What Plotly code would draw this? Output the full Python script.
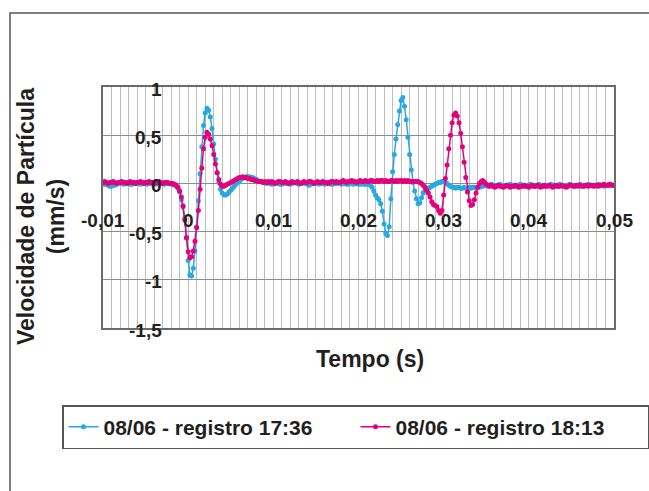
import plotly.graph_objects as go

# ---------------- data ----------------
t_start = -0.01
t_step = 0.0002
n_samples = 301
times = [round(t_start + t_step * i, 4) for i in range(n_samples)]

series_names = ["08/06 - registro 17:36", "08/06 - registro 18:13"]

blue_vals = [
    0.00, -0.01, -0.01, -0.02, -0.03, -0.03, -0.02, -0.02, -0.01, 0.00,
    0.01, 0.00, -0.01, 0.00, 0.01, 0.00, -0.01, -0.01, 0.00, 0.01,
    0.00, 0.00, -0.01, 0.00, 0.01, 0.00, -0.01, 0.00, 0.00, 0.01,
    0.00, -0.01, 0.00, 0.01, 0.00, 0.00, -0.01, 0.00, 0.00, 0.00,
    -0.01, -0.01, -0.02,
    -0.03, -0.05, -0.09, -0.17, -0.23, -0.36, -0.57, -0.80, -0.95, -0.96,
    -0.88, -0.70, -0.45, -0.18, 0.10, 0.38, 0.60, 0.73, 0.78, 0.76,
    0.69, 0.57, 0.41, 0.25, 0.11, 0.01, -0.06, -0.10, -0.12, -0.12,
    -0.11, -0.09, -0.07, -0.05, -0.03, -0.01, 0.01, 0.02, 0.04, 0.05,
    0.06, 0.07, 0.07, 0.07, 0.06, 0.06, 0.05, 0.04, 0.03, 0.02,
    0.02, 0.01, 0.01,
    0.00, 0.01, 0.00, -0.01, 0.00, 0.00, 0.01, 0.00, -0.01, -0.01,
    0.00, 0.01, 0.00, 0.00, -0.01, 0.00, 0.01, 0.01, 0.00, -0.01,
    0.00, 0.00, 0.01, 0.00, -0.01, -0.02, -0.01, 0.00, 0.00, 0.01,
    0.00, -0.01, 0.00, 0.00, -0.01, 0.00, 0.01, 0.00, -0.01, -0.01,
    0.00, 0.00, 0.01, 0.00, -0.01, 0.00, 0.00, -0.01, -0.01, 0.00,
    0.00, -0.01, 0.00, 0.00, -0.01, -0.01, 0.00, -0.01, -0.01, -0.01,
    -0.01, -0.02,
    -0.04, -0.08, -0.12, -0.15, -0.17, -0.21, -0.29, -0.42, -0.52, -0.54,
    -0.45, -0.16, 0.12, 0.30, 0.46, 0.61, 0.75, 0.86, 0.89, 0.80,
    0.66, 0.48, 0.30, 0.14, 0.01, -0.08, -0.16, -0.21, -0.20, -0.15,
    -0.10, -0.07, -0.06, -0.05, -0.04, -0.03, -0.02, -0.01, 0.00, 0.01,
    0.01, 0.02, 0.02, 0.01, 0.00, -0.02, -0.03,
    -0.04, -0.04, -0.05, -0.04, -0.04, -0.05, -0.05, -0.04, -0.05, -0.05,
    -0.04, -0.05, -0.04, -0.04, -0.05, -0.04, -0.04, -0.03,
    -0.03, -0.02, -0.02, -0.03, -0.02, -0.01, -0.02, -0.03, -0.02, -0.02,
    -0.01, -0.02, -0.03, -0.03, -0.02, -0.02, -0.01, -0.02, -0.02, -0.03,
    -0.02, -0.02, -0.01, -0.02, -0.03, -0.02, -0.02, -0.02, -0.01, -0.02,
    -0.03, -0.02, -0.02, -0.01, -0.02, -0.02, -0.03, -0.02, -0.02, -0.02,
    -0.01, -0.02, -0.02, -0.03, -0.02, -0.01, -0.02, -0.02, -0.03, -0.02,
    -0.02, -0.01, -0.02, -0.02, -0.03, -0.02, -0.02, -0.01, -0.02, -0.02,
    -0.03, -0.02, -0.01, -0.02, -0.02, -0.02, -0.03, -0.02, -0.01, -0.02,
    -0.02, -0.03, -0.02, -0.02, -0.01, -0.02, -0.02, -0.02,
]

pink_vals = [
    0.01, 0.02, 0.01, 0.00, 0.01, 0.01, 0.02, 0.01, 0.00, 0.01,
    0.01, 0.02, 0.01, 0.01, 0.00, 0.01, 0.02, 0.01, 0.01, 0.00,
    0.01, 0.01, 0.02, 0.01, 0.00, 0.01, 0.01, 0.02, 0.01, 0.01,
    0.00, 0.01, 0.01, 0.02, 0.01, 0.00, 0.01, 0.01, 0.01, 0.00,
    0.00, 0.00,
    -0.01, -0.02, -0.04, -0.08, -0.14, -0.24, -0.38, -0.56, -0.71, -0.77,
    -0.76, -0.70, -0.60, -0.46, -0.28, -0.06, 0.16, 0.36, 0.48, 0.53,
    0.51, 0.46, 0.39, 0.30, 0.20, 0.11, 0.04, -0.01, -0.03, -0.03,
    -0.02, -0.01, 0.00, 0.01, 0.02, 0.03, 0.04, 0.05, 0.06, 0.06,
    0.07, 0.06, 0.06, 0.05, 0.05, 0.04, 0.04, 0.03, 0.03, 0.02,
    0.02, 0.02, 0.01, 0.02,
    0.01, 0.02, 0.01, 0.02, 0.01, 0.00, 0.01, 0.02, 0.02, 0.01,
    0.01, 0.02, 0.01, 0.00, 0.01, 0.02, 0.01, 0.01, 0.02, 0.01,
    0.00, 0.01, 0.02, 0.01, 0.01, 0.02, 0.02, 0.01, 0.00, 0.01,
    0.02, 0.01, 0.01, 0.02, 0.01, 0.01, 0.00, 0.01, 0.02, 0.02,
    0.01, 0.02, 0.01, 0.01, 0.02, 0.03, 0.02, 0.01, 0.02, 0.02,
    0.03, 0.02, 0.02, 0.01, 0.02, 0.03, 0.02, 0.02, 0.03, 0.02,
    0.02, 0.03, 0.03, 0.02, 0.02, 0.03, 0.02, 0.03, 0.03, 0.02,
    0.03, 0.02, 0.02, 0.03, 0.03, 0.02, 0.03, 0.02, 0.03, 0.03,
    0.02, 0.03, 0.02, 0.03, 0.02, 0.02, 0.02, 0.02,
    0.02, 0.02, 0.01, 0.00, -0.02, -0.04, -0.07, -0.10, -0.14, -0.19,
    -0.22, -0.23, -0.24, -0.28, -0.31, -0.28, -0.12, 0.05, 0.19, 0.36,
    0.50, 0.63, 0.71, 0.73, 0.70, 0.63, 0.52, 0.38, 0.22, 0.06,
    -0.09, -0.18, -0.23, -0.22, -0.17, -0.10, -0.04, 0.00, 0.02, 0.03,
    0.01, -0.01, -0.02,
    -0.03, -0.02, -0.03, -0.04, -0.03, -0.02, -0.03, -0.03, -0.04, -0.03,
    -0.02, -0.03, -0.04, -0.03, -0.03, -0.02, -0.03, -0.04, -0.03, -0.03,
    -0.02, -0.03, -0.03, -0.04, -0.03, -0.02, -0.03, -0.03, -0.02, -0.03,
    -0.04, -0.03, -0.02, -0.03, -0.03, -0.02, -0.03, -0.04, -0.03, -0.02,
    -0.03, -0.03, -0.02, -0.03, -0.03, -0.04, -0.03, -0.02, -0.02, -0.03,
    -0.03, -0.02, -0.03, -0.02, -0.03, -0.03, -0.02, -0.02, -0.03, -0.02,
    -0.02, -0.03, -0.02, -0.02, -0.03, -0.02, -0.02, -0.01, -0.02, -0.02,
    -0.02, -0.01, -0.02, -0.02,
]

x_tick_vals = [-0.01, 0.0, 0.01, 0.02, 0.03, 0.04, 0.05]
x_tick_text = ["-0,01", "0", "0,01", "0,02", "0,03", "0,04", "0,05"]
y_tick_vals = [1.0, 0.5, 0.0, -0.5, -1.0, -1.5]
y_tick_text = ["1", "0,5", "0", "-0,5", "-1", "-1,5"]

x_title = "Tempo (s)"
y_title = "Velocidade de Partícula<br>(mm/s)"

# ---------------- style ----------------
W, H = 649, 491
BLUE = "#27A8E0"
PINK = "#E4007C"
TXT = "#231F20"
FONT = "Liberation Sans, Arial, Helvetica, sans-serif"


def fx(p):
    return p / W


def fy(p):
    return 1 - p / H


fig = go.Figure()
for name, vals, col in [(series_names[0], blue_vals, BLUE), (series_names[1], pink_vals, PINK)]:
    fig.add_trace(go.Scatter(
        x=times, y=vals, name=name, mode="lines+markers",
        line=dict(color=col, width=1.5),
        marker=dict(color=col, size=5),
    ))

annotations = []
for v, t in zip(x_tick_vals, x_tick_text):
    annotations.append(dict(x=v, y=-0.385, xref="x", yref="y", text=t, showarrow=False,
                            xanchor="center", yanchor="middle",
                            font=dict(family=FONT, size=19, color=TXT, weight="bold")))
for v, t in zip(y_tick_vals, y_tick_text):
    annotations.append(dict(x=-0.0028, y=v, xref="x", yref="y", text=t, showarrow=False,
                            xanchor="right", yanchor="middle", yshift=-2,
                            font=dict(family=FONT, size=19, color=TXT, weight="bold")))
annotations.append(dict(x=fx(370), y=fy(359), xref="paper", yref="paper", text=x_title,
                        showarrow=False, xanchor="center", yanchor="middle",
                        font=dict(family=FONT, size=23, color=TXT, weight="bold")))
annotations.append(dict(x=fx(41), y=fy(217), xref="paper", yref="paper", text=y_title,
                        showarrow=False, xanchor="center", yanchor="middle", textangle=-90,
                        font=dict(family=FONT, size=23, color=TXT, weight="bold")))

fig.update_layout(
    width=W, height=H,
    margin=dict(l=0, r=0, t=0, b=0, autoexpand=False),
    paper_bgcolor="white", plot_bgcolor="white",
    font=dict(family=FONT, color=TXT),
    showlegend=True,
    legend=dict(
        orientation="h", x=fx(62), y=fy(405), xanchor="left", yanchor="top",
        bordercolor="#555555", borderwidth=1.5, bgcolor="white",
        font=dict(family=FONT, size=21, color=TXT, weight="bold"),
        entrywidth=247, entrywidthmode="pixels", tracegroupgap=0,
    ),
    xaxis=dict(
        domain=[fx(103), fx(614)], range=[-0.01, 0.05],
        showgrid=True, dtick=0.001, tick0=0, gridcolor="#bdbdbd", gridwidth=1,
        showline=True, mirror=True, linecolor="#6a6a6a", linewidth=1.5,
        zeroline=False, showticklabels=False, ticks="",
    ),
    yaxis=dict(
        domain=[fy(328), fy(87)], range=[-1.5, 1],
        showgrid=True, dtick=0.5, tick0=0, gridcolor="#8c8c8c", gridwidth=1,
        showline=True, mirror=True, linecolor="#6a6a6a", linewidth=1.5,
        zeroline=False, showticklabels=False, ticks="",
    ),
    annotations=annotations,
    shapes=[dict(type="rect", xref="paper", yref="paper",
                 x0=fx(10), x1=fx(700), y0=fy(560), y1=fy(13),
                 line=dict(color="#555555", width=1.5), layer="below")],
)

fig.write_html(
    "out.html",
    config={"displayModeBar": False},
    post_script="document.body.style.margin='0';document.body.style.overflow='hidden';",
)
